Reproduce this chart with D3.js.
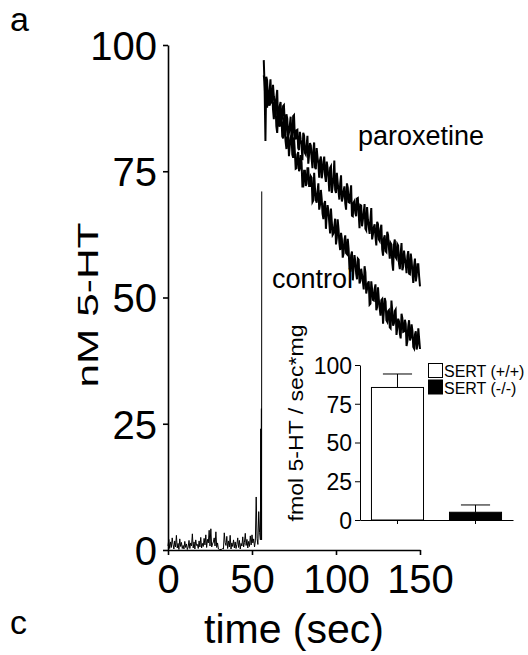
<!DOCTYPE html>
<html><head><meta charset="utf-8">
<script src="https://cdn.jsdelivr.net/npm/d3@7/dist/d3.min.js"></script>
<style>
html,body{margin:0;padding:0;background:#fff;}
svg{display:block;}
text{font-family:"Liberation Sans",Arial,Helvetica,sans-serif;fill:#000;}
</style></head>
<body>
<svg id="chart" width="528" height="655"></svg>
<script>
// ---------- data ----------
const xTicks = [0, 50, 100, 150];
const yTicks = [0, 25, 50, 75, 100];
// baseline recording, sampled every 0.5 s from t = 0 to 55 s (nM)
const baselineStart = 0, baselineStep = 0.5;
const baselineValues = [
  0.8, 2.1, 0.3, 1.6, 0.5, 2.4, 1.1, 0.2, 1.8, 0.6,
  2.9, 0.4, 1.3, 0.1, 2.2, 0.7, 1.5, 0.3, 0.9, 0.2,
  1.7, 0.5, 1.2, 0.1, 0.6, 1.9, 0.3, 1.4, 0.8, 3.2,
  0.4, 1.6, 0.2, 2.0, 0.9, 1.1, 0.3, 1.8, 0.6, 2.5,
  0.4, 1.3, 0.7, 2.3, 1.0, 3.0, 0.5, 2.1, 1.4, 3.9,
  0.8, 4.2, 0.6, 1.2, 1.6, 2.4, 0.8, 3.6, 0.5, 1.4,
  0.2, 0.1, 0.0, 0.2, 0.1, 0.3, 0.2, 3.4, 1.5, 0.9,
  2.7, 0.3, 1.8, 0.6, 2.9, 0.2, 1.4, 0.7, 2.0, 0.4,
  1.6, 0.3, 1.1, 2.4, 0.5, 1.9, 0.2, 1.3, 0.8, 2.6,
  0.6, 1.5, 3.3, 0.9, 2.1, 0.4, 1.7, 0.7, 2.8, 1.0,
  3.0, 1.4, 2.2, 0.6, 1.8, 10.5, 2.3, 1.1, 7.6, 3.5,
  2.0
];
// fast rise at 5-HT application: [time s, nM]
const riseTimes  = [55.2, 55.4, 55.6, 55.7, 55.8];
const riseValues = [24, 4, 28, 2, 71];
// clearance traces, sampled every 0.5 s from t = 57 to 150 s (nM)
const decayStart = 57, decayStep = 0.5;
const paroxetineValues = [
  97.0, 91.8, 81.0, 93.7, 93.0, 89.2, 88.0, 91.1, 93.2, 88.6,
  88.6, 92.1, 89.8, 88.6, 86.2, 89.5, 91.1, 85.0, 85.7, 87.9,
  88.7, 85.4, 85.4, 87.9, 88.1, 84.7, 82.1, 86.3, 85.4, 81.9,
  82.6, 84.1, 85.8, 81.6, 80.6, 85.9, 86.1, 81.8, 81.3, 83.1,
  83.2, 79.6, 79.2, 82.8, 81.2, 80.3, 77.2, 82.6, 82.1, 78.6,
  78.3, 80.1, 82.0, 76.5, 78.3, 80.6, 80.1, 77.5, 75.6, 79.2,
  80.7, 75.8, 75.4, 79.6, 77.7, 76.5, 73.7, 77.2, 77.9, 73.6,
  74.8, 76.9, 77.9, 74.1, 72.9, 76.9, 75.6, 73.8, 71.0, 75.7,
  76.0, 70.7, 72.0, 73.8, 77.1, 71.3, 70.7, 74.7, 72.8, 71.0,
  69.4, 72.6, 74.2, 69.0, 69.8, 71.0, 72.0, 68.7, 67.4, 72.6,
  71.8, 68.9, 68.8, 70.6, 72.2, 66.2, 66.1, 68.8, 69.1, 66.7,
  66.1, 69.6, 69.7, 66.7, 63.7, 68.3, 68.2, 64.1, 65.4, 66.8,
  68.5, 63.6, 63.3, 67.9, 65.4, 64.0, 62.6, 65.5, 67.7, 61.5,
  62.5, 63.9, 64.5, 62.0, 60.3, 65.0, 64.5, 61.5, 61.2, 63.6,
  64.4, 59.5, 58.3, 61.7, 62.3, 59.2, 59.0, 63.0, 62.4, 59.8,
  57.7, 60.8, 60.5, 56.8, 55.3, 60.5, 61.5, 58.0, 57.7, 60.6,
  60.3, 56.7, 55.6, 58.8, 60.8, 55.4, 56.1, 59.3, 57.8, 56.6,
  54.8, 58.2, 59.2, 54.7, 54.6, 58.7, 57.3, 54.9, 52.9, 56.3,
  57.7, 53.2, 54.3, 56.6, 56.6, 54.1, 52.2
];
const controlValues = [
  94.0, 92.8, 88.5, 88.9, 87.6, 90.6, 90.8, 88.0, 88.6, 91.0,
  90.9, 87.3, 85.3, 88.7, 88.2, 83.9, 82.6, 85.9, 86.0, 83.8,
  86.5, 86.2, 81.9, 81.5, 85.7, 83.2, 80.9, 79.4, 81.7, 82.4,
  78.0, 80.1, 81.7, 82.2, 78.3, 77.7, 81.7, 78.9, 75.5, 75.6,
  78.3, 78.8, 75.0, 75.6, 78.2, 76.7, 72.0, 72.0, 75.1, 75.1,
  72.1, 72.5, 75.6, 75.6, 72.1, 72.1, 74.0, 73.7, 68.9, 69.2,
  74.7, 71.5, 69.3, 68.8, 71.0, 72.6, 67.4, 68.4, 71.3, 69.5,
  66.6, 65.5, 68.6, 69.1, 63.6, 66.3, 68.3, 67.1, 64.8, 62.7,
  67.6, 65.0, 62.4, 62.7, 64.2, 65.6, 60.5, 61.8, 65.5, 63.6,
  60.8, 59.4, 62.8, 61.6, 57.9, 58.7, 61.3, 62.3, 58.8, 58.6,
  61.6, 59.6, 55.8, 55.1, 58.4, 59.1, 53.4, 56.0, 58.4, 57.1,
  54.7, 53.6, 57.7, 57.5, 52.8, 53.3, 55.7, 54.5, 53.2, 51.6,
  56.2, 55.0, 50.8, 51.7, 52.8, 53.2, 48.6, 48.8, 53.2, 51.6,
  49.5, 49.4, 51.7, 52.6, 47.5, 48.1, 52.0, 49.6, 47.9, 46.4,
  49.5, 49.7, 44.8, 47.3, 49.9, 49.2, 45.5, 45.2, 47.3, 47.5,
  44.1, 43.9, 49.4, 47.3, 44.4, 44.9, 47.3, 47.6, 42.6, 44.0,
  45.8, 45.3, 42.9, 41.9, 46.8, 45.9, 43.2, 43.3, 45.6, 44.8,
  40.4, 41.4, 44.3, 45.5, 41.5, 42.0, 44.7, 43.4, 40.2, 39.9,
  42.7, 43.3, 39.7, 40.6, 43.9, 41.8, 39.8
];
// inset: uptake rate
const insetGroups = ["SERT (+/+)", "SERT (-/-)"];
const insetMeans  = [85.5, 5.0];
const insetErrors = [8.7, 4.7];
const insetTicks  = [0, 25, 50, 75, 100];
const insetFills  = ["#ffffff", "#000000"];

// ---------- drawing ----------
const svg = d3.select("#chart");
const font = '"Liberation Sans",Arial,Helvetica,sans-serif';

const x = d3.scaleLinear().domain([0, 150]).range([168, 420]);
const y = d3.scaleLinear().domain([0, 100]).range([550, 45]);

// axes
const gx = svg.append("g").attr("transform", "translate(0,550)")
  .call(d3.axisBottom(x).tickValues(xTicks).tickSize(5).tickSizeOuter(0).tickPadding(9));
const gy = svg.append("g").attr("transform", "translate(168,0)")
  .call(d3.axisLeft(y).tickValues(yTicks).tickSize(5).tickSizeOuter(0).tickPadding(6));
[gx, gy].forEach(g => {
  g.select(".domain").attr("stroke", "#000").attr("stroke-width", 1.6);
  g.selectAll(".tick line").attr("stroke", "#000").attr("stroke-width", 1.6);
  g.selectAll(".tick text").attr("font-size", 40).attr("font-family", font).attr("fill", "#000");
});
gx.selectAll(".tick text").attr("dy", "0.72em");
gy.selectAll(".tick text").attr("dy", "0.36em");

// traces
const line = d3.line().x(d => x(d[0])).y(d => y(d[1]));
const baseline = baselineValues.map((v, i) => [baselineStart + i * baselineStep, v]);
const rise = riseTimes.map((t, i) => [t, riseValues[i]]);
const baseTrace = baseline.concat(rise);
const parox = paroxetineValues.map((v, i) => [decayStart + i * decayStep, v]);
const ctrl  = controlValues.map((v, i) => [decayStart + i * decayStep, v]);

svg.append("path").datum(baseTrace).attr("d", line)
  .attr("fill", "none").attr("stroke", "#000").attr("stroke-width", 1);
[ctrl, parox].forEach(d => {
  svg.append("path").datum(d).attr("d", line)
    .attr("fill", "none").attr("stroke", "#000").attr("stroke-width", 2)
    .attr("stroke-linejoin", "miter");
});

// labels
svg.append("text").attr("x", 294).attr("y", 643).attr("text-anchor", "middle")
  .attr("font-size", 41).text("time (sec)");
svg.append("text").attr("transform", "translate(98,305) rotate(-90)")
  .attr("text-anchor", "middle").attr("font-size", 29)
  .attr("textLength", 165).attr("lengthAdjust", "spacingAndGlyphs").text("nM 5-HT");
svg.append("text").attr("x", 358).attr("y", 145).attr("font-size", 27).text("paroxetine");
svg.append("text").attr("x", 272).attr("y", 288).attr("font-size", 27).text("control");
svg.append("text").attr("x", 10).attr("y", 31).attr("font-size", 34).text("a");
svg.append("text").attr("x", 10).attr("y", 634).attr("font-size", 34).text("c");

// ---------- inset ----------
const xi = d3.scaleBand().domain(insetGroups).range([360, 513]).paddingInner(0.333).paddingOuter(0.147);
const yi = d3.scaleLinear().domain([0, 100]).range([520, 365]);

const gxi = svg.append("g").attr("transform", "translate(0,520)")
  .call(d3.axisBottom(xi).tickSize(4).tickSizeOuter(0).tickFormat(""));
const gyi = svg.append("g").attr("transform", "translate(360,0)")
  .call(d3.axisLeft(yi).tickValues(insetTicks).tickSize(5).tickSizeOuter(0).tickPadding(3));
[gxi, gyi].forEach(g => {
  g.select(".domain").attr("stroke", "#000").attr("stroke-width", 1);
  g.selectAll(".tick line").attr("stroke", "#000").attr("stroke-width", 1);
  g.selectAll(".tick text").attr("font-size", 23).attr("font-family", font).attr("fill", "#000").attr("dy", "0.36em");
});

const bars = svg.append("g");
insetGroups.forEach((gname, i) => {
  const cx = xi(gname) + xi.bandwidth() / 2;
  const capW = xi.bandwidth() * 0.56;
  bars.append("line").attr("x1", cx).attr("x2", cx)
    .attr("y1", yi(insetMeans[i])).attr("y2", yi(insetMeans[i] + insetErrors[i]))
    .attr("stroke", "#000").attr("stroke-width", 1);
  bars.append("line").attr("x1", cx - capW / 2).attr("x2", cx + capW / 2)
    .attr("y1", yi(insetMeans[i] + insetErrors[i])).attr("y2", yi(insetMeans[i] + insetErrors[i]))
    .attr("stroke", "#000").attr("stroke-width", 1);
  bars.append("rect").attr("x", xi(gname)).attr("width", xi.bandwidth())
    .attr("y", yi(insetMeans[i])).attr("height", yi(0) - yi(insetMeans[i]))
    .attr("fill", insetFills[i]).attr("stroke", "#000").attr("stroke-width", 1);
});

svg.append("text").attr("transform", "translate(303,423) rotate(-90)")
  .attr("text-anchor", "middle").attr("font-size", 20)
  .attr("textLength", 197).attr("lengthAdjust", "spacingAndGlyphs").text("fmol 5-HT / sec*mg");

// legend
const leg = svg.append("g");
insetGroups.forEach((gname, i) => {
  leg.append("rect").attr("x", 428.5).attr("y", 363.5 + i * 16.5).attr("width", 14).attr("height", 14)
    .attr("fill", insetFills[i]).attr("stroke", "#000").attr("stroke-width", 1);
  leg.append("text").attr("x", 444).attr("y", 377 + i * 16.5).attr("font-size", 16).text(gname);
});
</script>
</body></html>
